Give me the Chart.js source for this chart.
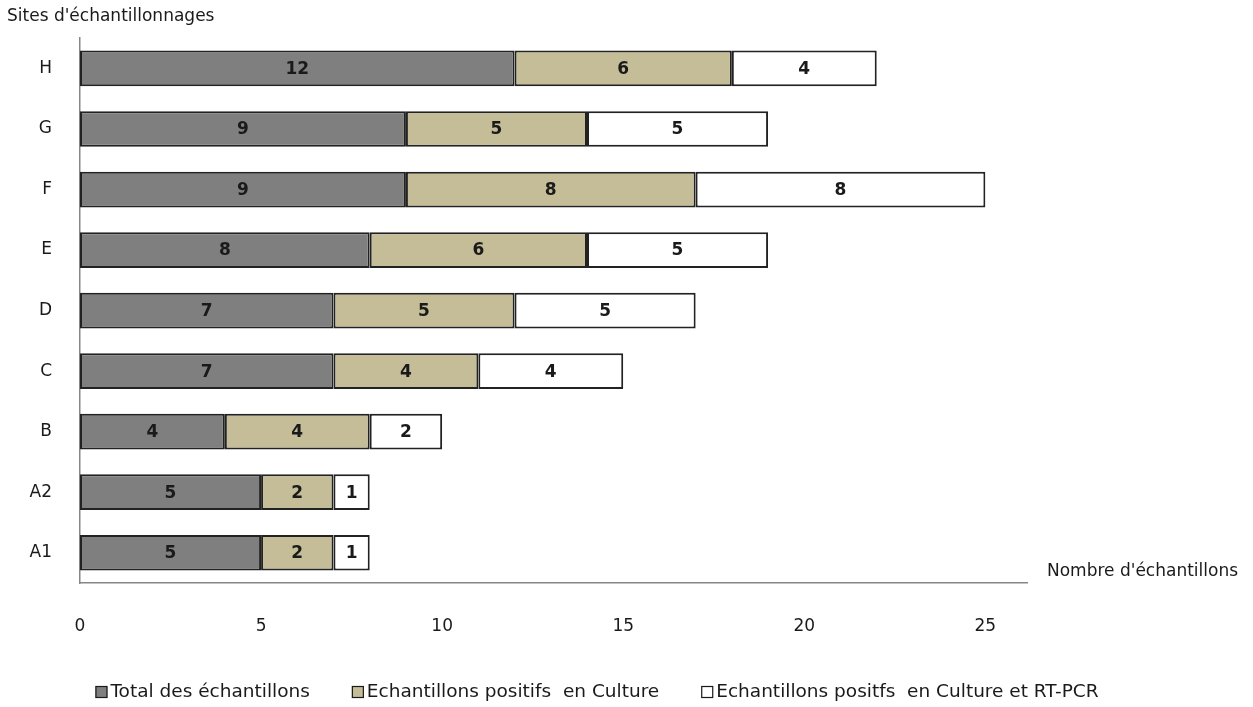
<!DOCTYPE html>
<html>
<head>
<meta charset="utf-8">
<script src="https://cdn.jsdelivr.net/npm/chart.js@4.4.1/dist/chart.umd.min.js"></script>
<style>
  html, body { margin: 0; padding: 0; background: #fff; }
  #wrap { width: 1253px; height: 707px; position: relative; }
</style>
</head>
<body>
<div id="wrap"><canvas id="chart"></canvas></div>
<script>
// Données
const sites = ['H', 'G', 'F', 'E', 'D', 'C', 'B', 'A2', 'A1'];
const totalEchantillons = [12, 9, 9, 8, 7, 7, 4, 5, 5];
const positifsCulture = [6, 5, 8, 6, 5, 4, 4, 2, 2];
const positifsCultureRtPcr = [4, 5, 8, 5, 5, 4, 2, 1, 1];
const xTicks = [0, 5, 10, 15, 20, 25];

const seriesNames = [
  'Total des échantillons',
  'Echantillons positifs  en Culture',
  'Echantillons positfs  en Culture et RT-PCR'
];
const seriesColors = ['#7f7f7f', '#c4bd97', '#ffffff'];

const FONT = '"DejaVu Sans", Verdana, sans-serif';
const TEXT = '#1a1a1a';

// valeurs au centre de chaque segment
const segmentLabels = {
  id: 'segmentLabels',
  afterDatasetsDraw(chart) {
    const ctx = chart.ctx;
    ctx.save();
    ctx.font = 'bold 17px ' + FONT;
    ctx.fillStyle = TEXT;
    ctx.textAlign = 'center';
    ctx.textBaseline = 'middle';
    chart.data.datasets.forEach((ds, i) => {
      chart.getDatasetMeta(i).data.forEach((bar, j) => {
        const p = bar.getProps(['x', 'y', 'base'], true);
        ctx.fillText(String(ds.data[j]), (p.x + p.base) / 2, p.y + 1);
      });
    });
    ctx.restore();
  }
};

// titres des axes + légende en bas
const extras = {
  id: 'extras',
  afterDraw(chart) {
    const ctx = chart.ctx;
    ctx.save();
    ctx.fillStyle = TEXT;
    ctx.textBaseline = 'middle';
    ctx.textAlign = 'left';
    ctx.font = '17px ' + FONT;
    ctx.fillText("Sites d'échantillonnages", 7, 17);
    ctx.fillText("Nombre d'échantillons", 1047, 572);

    // légende
    ctx.font = '18.5px ' + FONT;
    const box = 12, gapText = 3, gapItem = 42;
    const widths = seriesNames.map(t => ctx.measureText(t).width);
    const total = widths.reduce((a, w) => a + box + gapText + w, 0) + gapItem * (seriesNames.length - 1);
    let x = 597 - total / 2;
    const y = 692;
    seriesNames.forEach((t, i) => {
      ctx.fillStyle = seriesColors[i];
      ctx.fillRect(x, y - box / 2, box, box);
      ctx.strokeStyle = TEXT;
      ctx.lineWidth = 1.2;
      ctx.strokeRect(x + 0.5, y - box / 2 + 0.5, box - 1, box - 1);
      ctx.fillStyle = TEXT;
      ctx.fillText(t, x + box + gapText, y);
      x += box + gapText + widths[i] + gapItem;
    });
    ctx.restore();
  }
};

new Chart(document.getElementById('chart'), {
  type: 'bar',
  data: {
    labels: sites,
    datasets: [totalEchantillons, positifsCulture, positifsCultureRtPcr].map((d, i) => ({
      label: seriesNames[i],
      data: d,
      backgroundColor: seriesColors[i],
      borderColor: '#222222',
      borderWidth: 2,
      borderSkipped: false,
      barPercentage: 0.59,
      categoryPercentage: 1.0
    }))
  },
  options: {
    indexAxis: 'y',
    responsive: true,
    maintainAspectRatio: false,
    animation: false,
    layout: { padding: { left: 0, right: 226, top: 36, bottom: 0 } },
    scales: {
      x: {
        stacked: true,
        min: 0,
        max: 26.15,
        afterBuildTicks: (scale) => { scale.ticks = xTicks.map(v => ({ value: v })); },
        afterFit: (scale) => { scale.height = 124; },
        grid: { display: false, drawTicks: false },
        border: { display: true, color: '#868686', width: 1.5 },
        ticks: {
          padding: 33,
          color: TEXT,
          font: { family: FONT, size: 17 },
          maxRotation: 0
        }
      },
      y: {
        stacked: true,
        afterFit: (scale) => { scale.width = 80; },
        grid: { display: false, drawTicks: false },
        border: { display: true, color: '#868686', width: 1.5 },
        ticks: {
          padding: 28,
          color: TEXT,
          font: { family: FONT, size: 17 }
        }
      }
    },
    plugins: {
      legend: { display: false },
      tooltip: { enabled: false }
    }
  },
  plugins: [segmentLabels, extras]
});
</script>
</body>
</html>
